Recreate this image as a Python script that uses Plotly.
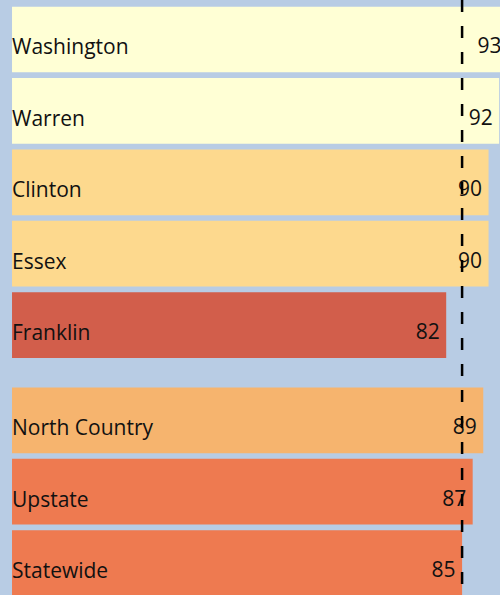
import plotly.graph_objects as go

# County and regional scores
regions = ["Washington", "Warren", "Clinton", "Essex", "Franklin",
           "North Country", "Upstate", "Statewide"]
scores = [93, 92, 90, 90, 82, 89, 87, 85]
bar_colors = ["#ffffd5", "#ffffd5", "#fdd98e", "#fdd98e", "#d25e4b",
              "#f6b46e", "#ee7a50", "#ee7a50"]
benchmark = "Statewide"

# Counties first, then a small gap before the aggregate rows
n_counties = 5
group_gap = 1 / 3
ypos = [i + (group_gap if i >= n_counties else 0) for i in range(len(regions))]

bg = "#b8cce4"
font_family = "Open Sans"
label_font = dict(family=font_family, size=21, color="#111111")

x_range = [-2.27, 92.16]
y_range = [7.78, -0.553]
label_drop = 0.084  # value labels sit slightly below the bar centre

# Value labels get a thin trailing pad, except where the bar runs off the edge
value_text = [str(v) + ("\u2009" if v <= x_range[1] else "") for v in scores]

fig = go.Figure()
fig.add_trace(go.Bar(
    x=scores,
    y=ypos,
    orientation="h",
    width=0.92,
    marker=dict(color=bar_colors, line=dict(width=0)),
    hoverinfo="skip",
))

# Transparent copy of the bars, nudged down, carrying the value labels
fig.add_trace(go.Bar(
    x=scores,
    y=ypos,
    yaxis="y2",
    orientation="h",
    width=0.92,
    marker=dict(color="rgba(0,0,0,0)", line=dict(width=0)),
    text=value_text,
    textposition="inside",
    insidetextanchor="end",
    constraintext="none",
    textangle=0,
    insidetextfont=label_font,
    hoverinfo="skip",
))

annotations = []
for name, y in zip(regions, ypos):
    annotations.append(dict(
        x=0, y=y, xref="x", yref="y", text=name, showarrow=False,
        xanchor="left", yanchor="middle", xshift=-2, yshift=-7,
        font=label_font,
    ))

ref_value = scores[regions.index(benchmark)]

fig.update_layout(
    width=500, height=595,
    margin=dict(l=0, r=0, t=0, b=0),
    paper_bgcolor=bg, plot_bgcolor=bg,
    showlegend=False,
    barmode="overlay",
    xaxis=dict(range=x_range, visible=False, fixedrange=True),
    yaxis=dict(range=y_range, visible=False, fixedrange=True),
    yaxis2=dict(range=[y_range[0] - label_drop, y_range[1] - label_drop],
                overlaying="y", visible=False, fixedrange=True),
    annotations=annotations,
    shapes=[dict(
        type="line", xref="x", yref="paper",
        x0=ref_value, x1=ref_value, y0=1, y1=0,
        line=dict(color="#000000", width=2.5, dash="12px,14px"),
    )],
)

fig.write_html("out.html")
